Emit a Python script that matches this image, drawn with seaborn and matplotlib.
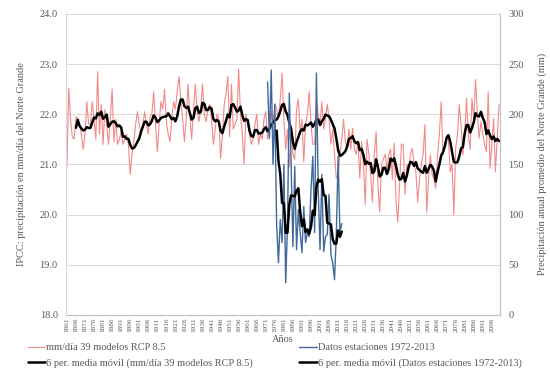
import numpy as np
import pandas as pd
import matplotlib
matplotlib.use("Agg")
import matplotlib.pyplot as plt
import seaborn as sns

# IPCC: annual precipitation (mm/day), 39 models RCP 8.5, 1861-2100
years_model = list(range(1861, 2101))
model_mm_day = [
    20.95, 22.52, 21.90, 21.55, 21.50, 21.95, 21.90, 21.80, 21.60, 21.30,  # 1861-1870
    21.60, 22.25, 21.80, 21.80, 22.25, 21.90, 21.50, 22.85, 21.60, 22.20,  # 1871-1880
    21.40, 22.10, 21.80, 21.40, 21.90, 22.50, 21.45, 21.90, 21.40, 21.50,  # 1881-1890
    21.65, 21.40, 21.50, 21.60, 21.40, 20.80, 21.20, 21.45, 21.80, 22.05,  # 1891-1900
    21.80, 21.60, 21.80, 22.05, 21.80, 21.60, 21.95, 22.00, 22.45, 21.80,  # 1901-1910
    21.25, 21.80, 22.25, 22.10, 22.50, 21.85, 21.60, 21.45, 21.90, 22.25,  # 1911-1920
    22.10, 22.45, 22.75, 22.30, 21.90, 21.45, 21.90, 22.60, 22.00, 21.50,  # 1921-1930
    22.10, 22.60, 22.10, 21.85, 22.10, 22.60, 22.00, 21.85, 22.10, 22.20,  # 1931-1940
    21.90, 21.40, 21.70, 22.00, 21.90, 21.12, 21.60, 22.20, 22.40, 22.75,  # 1941-1950
    21.55, 22.60, 21.70, 21.80, 21.90, 22.90, 22.00, 21.60, 21.00, 22.00,  # 1951-1960
    21.80, 21.60, 21.40, 21.50, 21.80, 22.00, 21.40, 21.60, 21.50, 21.90,  # 1961-1970
    22.05, 21.50, 21.70, 22.05, 21.80, 22.20, 22.10, 21.90, 22.30, 22.82,  # 1971-1980
    21.90, 21.30, 21.70, 20.95, 21.60, 21.20, 21.10, 22.10, 22.30, 21.60,  # 1981-1990
    21.90, 21.05, 21.80, 22.00, 22.45, 21.80, 21.40, 21.40, 22.30, 22.00,  # 1991-2000
    21.80, 22.25, 21.70, 21.90, 22.20, 21.90, 21.40, 21.70, 21.20, 20.72,  # 2001-2010
    20.80, 21.20, 21.50, 21.90, 21.45, 21.30, 21.70, 21.30, 21.72, 21.30,  # 2011-2020
    21.20, 21.45, 20.72, 21.45, 21.00, 20.20, 21.50, 21.20, 20.80, 20.25,  # 2021-2030
    21.20, 21.65, 20.60, 20.05, 21.00, 21.10, 21.20, 20.90, 21.20, 21.30,  # 2031-2040
    20.70, 21.42, 20.30, 19.85, 20.60, 21.40, 21.40, 20.40, 21.00, 20.90,  # 2041-2050
    21.20, 21.32, 21.00, 20.85, 20.25, 20.70, 21.00, 21.20, 21.79, 20.05,  # 2051-2060
    20.70, 21.19, 20.80, 20.70, 20.52, 21.19, 21.60, 22.25, 21.19, 21.40,  # 2061-2070
    21.55, 21.50, 20.85, 21.00, 19.99, 21.32, 21.60, 22.19, 21.80, 21.19,  # 2071-2080
    21.60, 22.32, 21.59, 21.30, 22.32, 21.90, 22.69, 22.00, 21.52, 21.85,  # 2081-2090
    21.60, 21.40, 21.25, 22.45, 20.92, 21.40, 21.92, 20.85, 21.50, 22.19,  # 2091-2100
]

# Station data, annual precipitation (mm), 1972-2013
years_station = list(range(1972, 2014))
station_mm = [
    232, 176, 244, 150, 210, 90, 52, 95, 72, 150,
    32, 90, 221, 150, 68, 148, 65, 105, 82, 62,
    108, 72, 82, 78, 125, 158, 82, 241, 125, 65,
    140, 63, 78, 80, 120, 60, 52, 35, 80, 158,
    82, 91,
]

tick_years = list(range(1861, 2097, 5))

lbl_model = "mm/día 39 modelos RCP 8.5"
lbl_model_ma = "6 per. media móvil (mm/día 39 modelos RCP 8.5)"
lbl_station = "Datos estaciones 1972-2013"
lbl_station_ma = "6 per. media móvil (Datos estaciones 1972-2013)"

# Excel-style 6 period moving average trendlines
model_ma = pd.Series(model_mm_day).rolling(6).mean()
station_ma = pd.Series(station_mm).rolling(6).mean()

sns.set_style("white")
plt.rcParams["font.family"] = ["Liberation Serif", "DejaVu Serif"]
text_color = "#595959"
grid_color = "#d9d9d9"

fig = plt.figure(figsize=(5.5, 3.84), dpi=100)
ax = fig.add_axes([0.12, 0.18, 0.789, 0.784])
ax2 = ax.twinx()

sns.lineplot(x=years_model, y=model_mm_day, ax=ax, color="#f28a8a", linewidth=0.8,
             label=lbl_model, legend=False)
sns.lineplot(x=years_model, y=model_ma, ax=ax, color="black", linewidth=1.8,
             label=lbl_model_ma, legend=False)
sns.lineplot(x=years_station, y=station_mm, ax=ax2, color="#41699a", linewidth=1.0,
             label=lbl_station, legend=False)
sns.lineplot(x=years_station, y=station_ma, ax=ax2, color="black", linewidth=1.8,
             label=lbl_station_ma, legend=False)

ax.set_xlim(1860.5, 2100.5)
ax.set_ylim(18, 24)
ax2.set_ylim(0, 300)
ax.set_yticks(np.arange(18, 24.01, 1.0))
ax.set_yticklabels([f"{v:.1f}" for v in np.arange(18, 24.01, 1.0)])
ax2.set_yticks(range(0, 301, 50))
ax.set_xticks(tick_years)
ax.set_xticklabels([str(y) for y in tick_years], rotation=90)

ax.yaxis.grid(True, color=grid_color, linewidth=0.7)
ax.set_axisbelow(True)
ax.xaxis.grid(False)
ax2.grid(False)

for a in (ax, ax2):
    a.tick_params(axis="y", length=0, labelsize=7.5, colors=text_color, pad=6)
    a.tick_params(axis="x", length=0, labelsize=5.2, colors=text_color, pad=2)
    for s in a.spines.values():
        s.set_visible(False)
ax.spines["left"].set_visible(True)
ax.spines["left"].set_color(grid_color)
ax.spines["bottom"].set_visible(True)
ax.spines["bottom"].set_color("#bfbfbf")
ax2.spines["right"].set_visible(True)
ax2.spines["right"].set_color("#bfbfbf")

ax.set_xlabel("Años", fontsize=7.5, color=text_color)
ax.set_ylabel("IPCC: precipitación en mm/día del Norte Grande", fontsize=7.5,
              color=text_color, labelpad=10)
ax2.set_ylabel("Precipitación anual promedio del Norte Grande (mm)", fontsize=7.5,
               color=text_color, labelpad=10)
ax.xaxis.set_label_coords(0.5, -0.066)

handles = ax.get_lines()[:2] + ax2.get_lines()[:2]
labels = [lbl_model, lbl_model_ma, lbl_station, lbl_station_ma]
leg = fig.legend(handles, labels, ncol=2, loc="upper left", bbox_to_anchor=(0.033, 0.131),
                 frameon=False, fontsize=7.5, handlelength=1.7, handletextpad=0.1,
                 columnspacing=4.4, labelspacing=0.55)
for t in leg.get_texts():
    t.set_color(text_color)

fig.savefig("out.png", dpi=100)
